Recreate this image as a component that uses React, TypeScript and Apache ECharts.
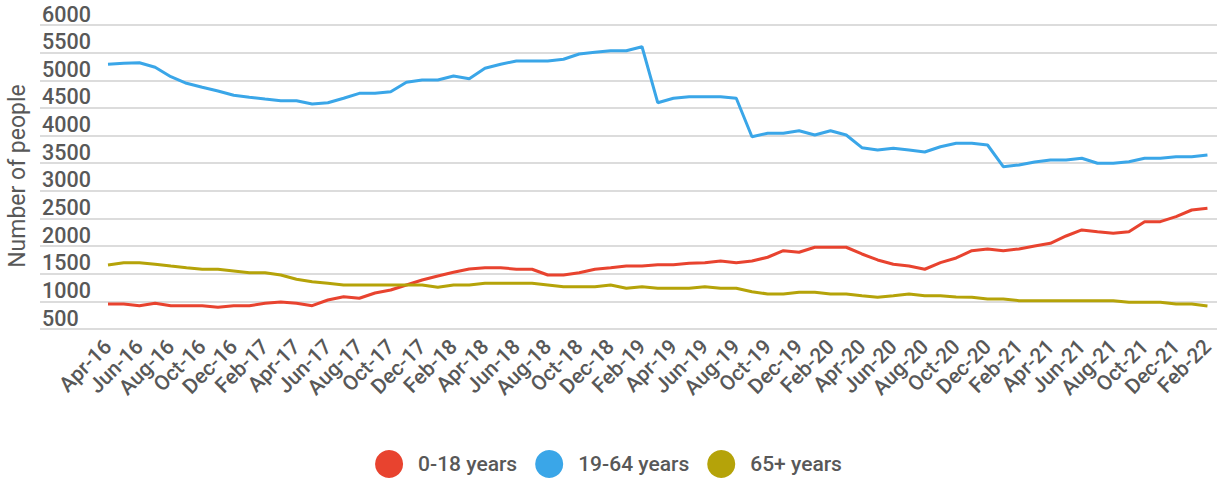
import React, { useEffect, useRef } from "react";
import * as echarts from "echarts";

const months = [
  "Apr-16", "May-16", "Jun-16", "Jul-16", "Aug-16", "Sep-16", "Oct-16", "Nov-16", "Dec-16",
  "Jan-17", "Feb-17", "Mar-17", "Apr-17", "May-17", "Jun-17", "Jul-17", "Aug-17", "Sep-17", "Oct-17", "Nov-17", "Dec-17",
  "Jan-18", "Feb-18", "Mar-18", "Apr-18", "May-18", "Jun-18", "Jul-18", "Aug-18", "Sep-18", "Oct-18", "Nov-18", "Dec-18",
  "Jan-19", "Feb-19", "Mar-19", "Apr-19", "May-19", "Jun-19", "Jul-19", "Aug-19", "Sep-19", "Oct-19", "Nov-19", "Dec-19",
  "Jan-20", "Feb-20", "Mar-20", "Apr-20", "May-20", "Jun-20", "Jul-20", "Aug-20", "Sep-20", "Oct-20", "Nov-20", "Dec-20",
  "Jan-21", "Feb-21", "Mar-21", "Apr-21", "May-21", "Jun-21", "Jul-21", "Aug-21", "Sep-21", "Oct-21", "Nov-21", "Dec-21",
  "Jan-22", "Feb-22",
];

const age0to18 = [
  953, 953, 922, 965, 922, 922, 922, 893, 922, 922,
  965, 989, 965, 922, 1025, 1085, 1056, 1152, 1206, 1297,
  1387, 1459, 1526, 1586, 1610, 1610, 1581, 1581, 1477, 1477,
  1519, 1581, 1610, 1640, 1640, 1664, 1664, 1689, 1700, 1731,
  1700, 1731, 1798, 1917, 1888, 1979, 1979, 1979, 1857, 1749,
  1671, 1640, 1581, 1700, 1785, 1917, 1948, 1917, 1948, 2002,
  2051, 2183, 2292, 2261, 2232, 2261, 2442, 2442, 2532, 2653, 2684,
];

const age19to64 = [
  5289, 5307, 5318, 5235, 5065, 4945, 4873, 4806, 4728, 4692,
  4661, 4631, 4631, 4571, 4594, 4674, 4764, 4764, 4793, 4963,
  5005, 5005, 5077, 5029, 5217, 5289, 5349, 5349, 5349, 5380,
  5475, 5506, 5535, 5535, 5607, 4594, 4674, 4703, 4703, 4703,
  4674, 3979, 4041, 4041, 4088, 4010, 4088, 4010, 3780, 3739,
  3770, 3739, 3703, 3798, 3860, 3860, 3829, 3437, 3467, 3522,
  3558, 3558, 3589, 3498, 3498, 3527, 3589, 3589, 3618, 3618, 3648,
];

const age65plus = [
  1658, 1700, 1700, 1671, 1640, 1610, 1581, 1581, 1550, 1519,
  1519, 1477, 1400, 1356, 1327, 1297, 1297, 1297, 1297, 1297,
  1297, 1255, 1297, 1297, 1327, 1327, 1327, 1327, 1297, 1266,
  1266, 1266, 1297, 1237, 1266, 1237, 1237, 1237, 1266, 1237,
  1237, 1175, 1134, 1134, 1164, 1164, 1134, 1134, 1103, 1074,
  1103, 1134, 1103, 1103, 1080, 1074, 1043, 1043, 1013, 1013,
  1013, 1013, 1013, 1013, 1013, 984, 984, 984, 953, 953, 917,
];

const seriesNames = ["0-18 years", "19-64 years", "65+ years"];
const seriesColors = ["#E8432F", "#3AA6E8", "#B5A309"];
const yMin = 500;
const yMax = 6000;
const yStep = 500;
const yTitle = "Number of people";

export default function App() {
  const ref = useRef<HTMLDivElement>(null);

  useEffect(() => {
    if (!ref.current) return;
    const chart = echarts.init(ref.current, null, { renderer: "svg" });
    const font = "Roboto, 'Noto Sans', sans-serif";
    const labelColor = "#585858";
    const seriesData = [age0to18, age19to64, age65plus];
    chart.setOption({
      animation: false,
      backgroundColor: "#ffffff",
      textStyle: { fontFamily: font },
      grid: [
        { left: 40, right: 0, top: 25, height: 304 },
        { left: 108, right: 9, top: 25, height: 304 },
      ],
      xAxis: [
        { type: "value", gridIndex: 0, show: false, min: 0, max: 1 },
        {
          type: "category",
          gridIndex: 1,
          data: months,
          boundaryGap: false,
          axisLine: { show: false },
          axisTick: { show: false },
          axisLabel: {
            interval: 1,
            rotate: 45,
            margin: 14,
            fontSize: 21,
            fontWeight: 500,
            color: labelColor,
            fontFamily: font,
          },
          splitLine: { show: false },
        },
      ],
      yAxis: [
        {
          type: "value",
          gridIndex: 0,
          min: yMin,
          max: yMax,
          interval: yStep,
          axisLine: { show: false },
          axisTick: { show: false },
          axisLabel: {
            inside: true,
            margin: 2,
            align: "left",
            verticalAlign: "bottom",
            fontSize: 21.5,
            fontWeight: 500,
            color: labelColor,
            fontFamily: font,
            formatter: (v: number) => String(v),
            showMinLabel: true,
            showMaxLabel: true,
          },
          splitLine: { show: true, lineStyle: { color: "#dcdcdc", width: 2 } },
        },
        {
          type: "value",
          gridIndex: 1,
          min: yMin,
          max: yMax,
          interval: yStep,
          show: false,
          splitLine: { show: false },
        },
      ],
      legend: {
        top: 450,
        left: "center",
        padding: 0,
        icon: "circle",
        itemWidth: 28,
        itemHeight: 28,
        itemGap: 18,
        textStyle: { fontSize: 21, fontWeight: 500, color: labelColor, fontFamily: font, padding: [0, 0, 0, 10] },
        data: seriesNames,
      },
      graphic: [
        {
          type: "text",
          x: 17,
          y: 176,
          rotation: Math.PI / 2,
          style: {
            text: yTitle,
            fontSize: 23,
            fill: labelColor,
            fontFamily: font,
            textAlign: "center",
            textVerticalAlign: "middle",
          },
        },
      ],
      series: seriesNames.map((name, i) => ({
        name,
        type: "line",
        xAxisIndex: 1,
        yAxisIndex: 1,
        data: seriesData[i],
        showSymbol: false,
        symbol: "circle",
        color: seriesColors[i],
        lineStyle: { color: seriesColors[i], width: 3 },
      })),
    });
    return () => chart.dispose();
  }, []);

  return (
    <div
      ref={ref}
      style={{ position: "fixed", left: 0, top: 0, width: 1217, height: 479, background: "#fff" }}
    />
  );
}
